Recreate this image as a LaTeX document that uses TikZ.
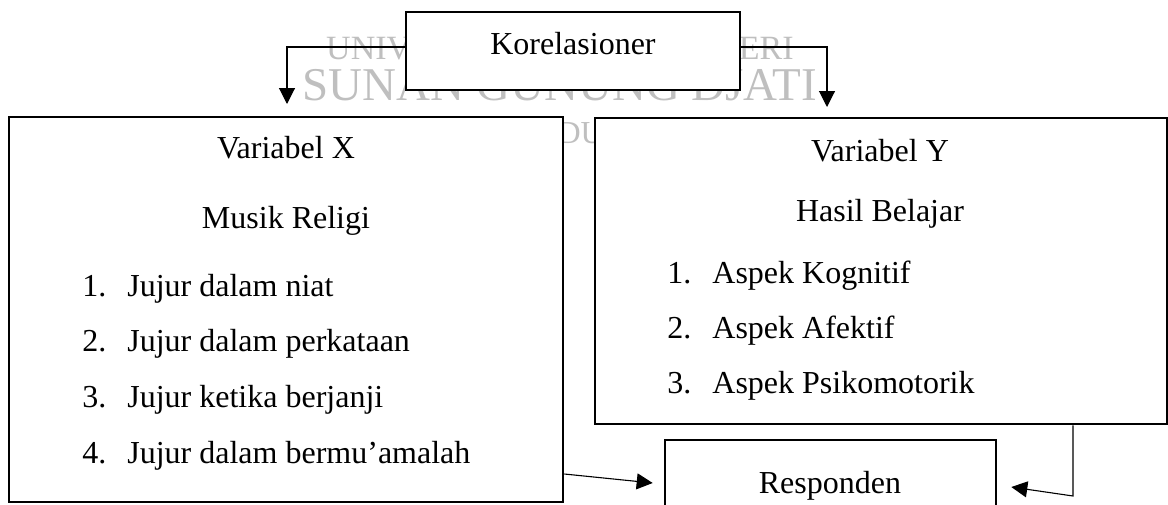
\documentclass[tikz,border=0pt]{standalone}
\usepackage{fontspec}
\setmainfont{Liberation Serif}
\usetikzlibrary{arrows.meta, positioning}

\newcommand{\itemno}[1]{\makebox[22.5pt][l]{#1}}

\begin{document}
\begin{tikzpicture}[x=0.5pt,y=-0.5pt]
        \useasboundingbox (0,0) rectangle (1168,504);
        \clip (0,0) rectangle (1168,504);
        % watermark behind the boxes
        \begin{scope}[every node/.style={text=black!25,inner sep=0pt,anchor=base}]
          \node[font=\fontsize{17}{20}\selectfont] (wmuni) at (560,59) {UNIVERSITAS ISLAM NEGERI};
          \node[font=\fontsize{23.5}{26}\selectfont] (wmsgd) at (560,100) {SUNAN GUNUNG DJATI};
          \node[font=\fontsize{16}{19}\selectfont] (wmbdg) at (570,143) {BANDUNG};
        \end{scope}
        \begin{scope}[every node/.style={draw,line width=1.3pt,fill=white,inner sep=0pt}]
          \node[minimum width=167pt,minimum height=39pt] (kor) at (573,51) {};
          \node[minimum width=277pt,minimum height=192.5pt] (varx) at (286,309.5) {};
          \node[minimum width=286pt,minimum height=153pt] (vary) at (881,271) {};
          \node[minimum width=165.5pt,minimum height=45pt] (resp) at (830.5,485) {};
        \end{scope}
        \begin{scope}[every node/.style={inner sep=0pt,anchor=base,font=\fontsize{16}{19}\selectfont}]
          \node (tkor) at (573,54) {Korelasioner};
          \node (tvarx) at (286,158) {Variabel X};
          \node (tmusik) at (286,228) {Musik Religi};
          \node[anchor=base west] (xa) at (82,296) {\itemno{1.}Jujur dalam niat};
          \node[anchor=base west] (xb) at (82,351) {\itemno{2.}Jujur dalam perkataan};
          \node[anchor=base west] (xc) at (82,407) {\itemno{3.}Jujur ketika berjanji};
          \node[anchor=base west] (xd) at (82,463) {\itemno{4.}Jujur dalam bermu’amalah};
          \node (tvary) at (880,161) {Variabel Y};
          \node (thasil) at (880,221) {Hasil Belajar};
          \node[anchor=base west] (ya) at (667,283) {\itemno{1.}Aspek Kognitif};
          \node[anchor=base west] (yb) at (667,338) {\itemno{2.}Aspek Afektif};
          \node[anchor=base west] (yc) at (667,393) {\itemno{3.}Aspek Psikomotorik};
          \node (tresp) at (830,493) {Responden};
        \end{scope}
        \coordinate (xin) at (287,104);
        \coordinate (yin) at (827,107);
        \coordinate (yturn) at (1073,496);
        \begin{scope}[line width=0.55pt,>={Triangle[length=8pt,width=8pt]}]
          \draw[->] ([yshift=2pt]kor.west) -| (xin);
          \draw[->] ([yshift=2pt]kor.east) -| (yin);
          \draw[->] ([yshift=-82.25pt]varx.east) -- ([xshift=-5.5pt,yshift=1pt]resp.west);
          \draw[->] (vary.south -| yturn) -- (yturn) -- ([xshift=7pt,yshift=-1pt]resp.east);
        \end{scope}
      \end{tikzpicture}
\end{document}
